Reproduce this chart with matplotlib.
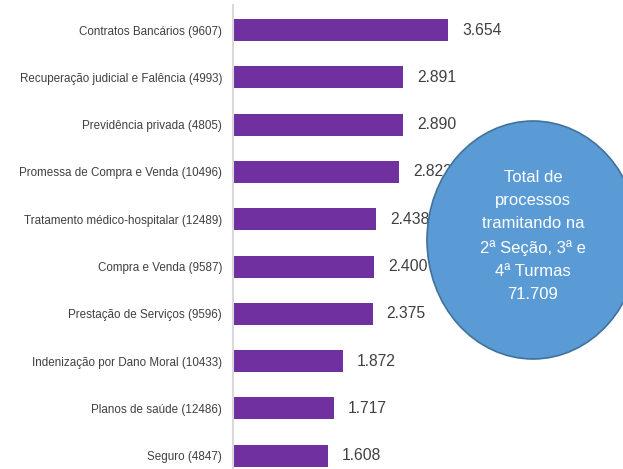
import matplotlib
matplotlib.use("Agg")
import matplotlib.pyplot as plt
from matplotlib.patches import Ellipse

categories = [
    "Contratos Bancários (9607)",
    "Recuperação judicial e Falência (4993)",
    "Previdência privada (4805)",
    "Promessa de Compra e Venda (10496)",
    "Tratamento médico-hospitalar (12489)",
    "Compra e Venda (9587)",
    "Prestação de Serviços (9596)",
    "Indenização por Dano Moral (10433)",
    "Planos de saúde (12486)",
    "Seguro (4847)",
]
values = [3654, 2891, 2890, 2822, 2438, 2400, 2375, 1872, 1717, 1608]
value_labels = ["3.654", "2.891", "2.890", "2.822", "2.438", "2.400", "2.375", "1.872", "1.717", "1.608"]
bubble_text = "Total de\nprocessos\ntramitando na\n2ª Seção, 3ª e\n4ª Turmas\n71.709"

FONT = ["Liberation Sans", "DejaVu Sans"]
plt.rcParams["font.family"] = FONT

fig = plt.figure(figsize=(6.23, 4.69), dpi=100)
ax = fig.add_axes([233 / 623, 0.0, 390 / 623, 1 - 5 / 469])

n = len(categories)
ypos = list(range(n))
ax.barh(ypos, values, height=0.465, color="#7030A0", zorder=2)
ax.set_ylim(9.28, -0.53)
ax.set_xlim(0, 6628)

ax.set_yticks(ypos)
ax.set_yticklabels(categories, fontsize=8.4, color="#404040")
ax.tick_params(axis="y", length=0, pad=8)
ax.set_xticks([])
for s in ["top", "right", "bottom"]:
    ax.spines[s].set_visible(False)
ax.spines["left"].set_color("#d9d9d9")
ax.spines["left"].set_linewidth(1.5)

for y, v, lab in zip(ypos, values, value_labels):
    ax.annotate(lab, (v, y), xytext=(10, 0), textcoords="offset points",
                ha="left", va="center", fontsize=11.3, color="#404040", zorder=3)

# bubble in figure pixel coordinates
ell = Ellipse((533 / 623, 1 - 240 / 469), 212 / 623, 238 / 469, transform=fig.transFigure,
              facecolor="#5B9BD5", edgecolor="#41719C", linewidth=1.2, zorder=10)
fig.add_artist(ell)
fig.text(533 / 623, 1 - 236 / 469, bubble_text, ha="center", va="center", fontsize=12,
         color="white", linespacing=1.68, zorder=11)

fig.savefig("out.png", dpi=100)
